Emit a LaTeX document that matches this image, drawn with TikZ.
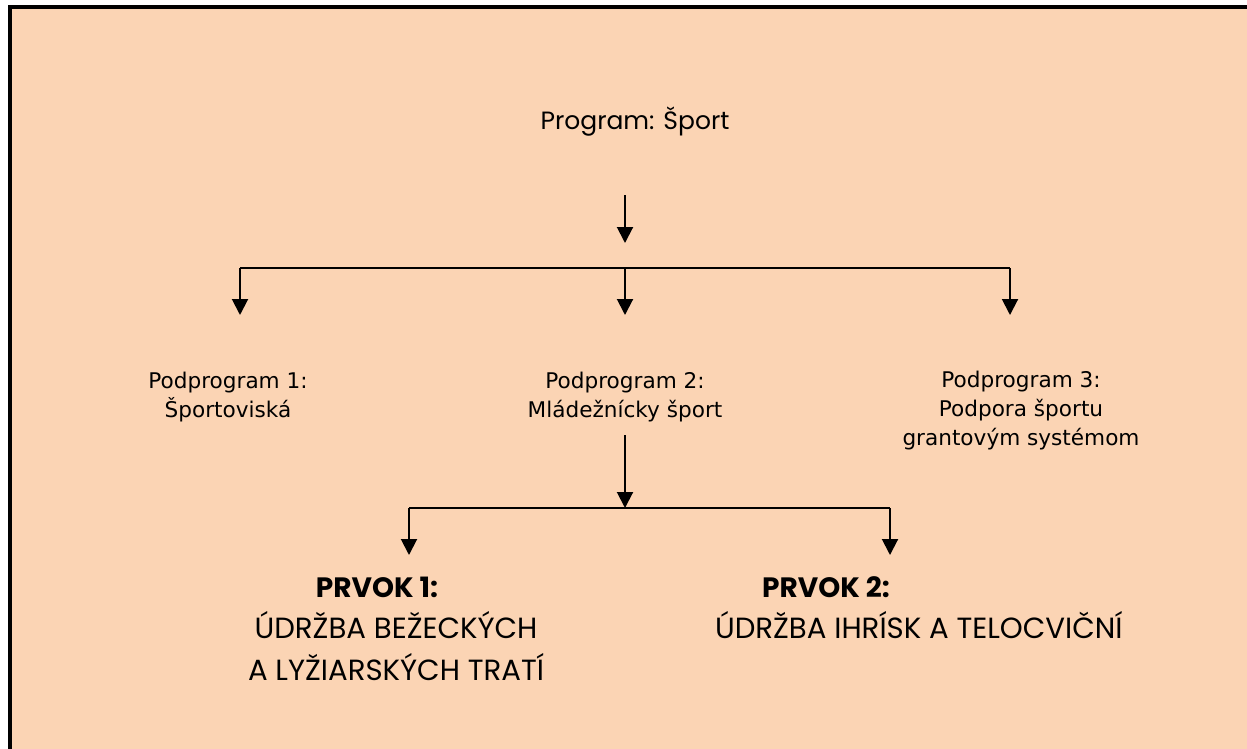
\documentclass[tikz,border=0pt]{standalone}
\usepackage{fontspec}
\setmainfont{DejaVu Sans}
\newfontfamily\gothic{Poppins}
\usepackage{tikz}
\usetikzlibrary{arrows.meta}
\definecolor{peach}{RGB}{251,212,180}

\begin{document}
\begin{tikzpicture}[x=0.5pt,y=-0.5pt,
		arr/.style={line width=1pt, -{Triangle[width=8pt,length=8pt]}},
		ln/.style={line width=1pt},
		sub/.style={align=center, anchor=base, font=\fontsize{10.8}{14.5}\selectfont},
		head/.style={anchor=base, font=\gothic\bfseries\fontsize{14}{17}\selectfont},
		elem/.style={align=center, anchor=base, font=\gothic\fontsize{14.6}{21}\selectfont}]
			\useasboundingbox (0,0) rectangle (1247,749);
			\fill[peach] (8,5) rectangle (1247,749);
			\draw[line width=2pt] (10,749) -- (10,7) -- (1247,7);
			
			% multi-line nodes sit on their last baseline
			\node[anchor=base] (0) at (635,129) {\gothic\fontsize{12.5}{15}\selectfont Program: Šport};
			\node[sub] (1) at (228,417) {Podprogram 1:\\Športoviská};
			\node[sub] (2) at (625,417) {Podprogram 2:\\Mládežnícky šport};
			\node[sub] (3) at (1021,445) {Podprogram 3:\\Podpora športu\\grantovým systémom};
			\node[head] (4) at (377,597) {PRVOK 1:};
			\node[elem] (5) at (396,680) {ÚDRŽBA BEŽECKÝCH\\A LYŽIARSKÝCH TRATÍ};
			\node[head] (6) at (826,597) {PRVOK 2:};
			\node[elem, anchor=base west] (7) at (708,638) {ÚDRŽBA IHRÍSK A TELOCVIČNÍ};
			
			\coordinate (a) at (625,195);
			\coordinate (b) at (625,243);
			\coordinate (c1) at (240,268);
			\coordinate (c2) at (625,268);
			\coordinate (c3) at (1010,268);
			\coordinate (d1) at (240,315);
			\coordinate (d2) at (625,315);
			\coordinate (d3) at (1010,315);
			\coordinate (e) at (625,435);
			\coordinate (f) at (625,508);
			\coordinate (g1) at (409,508);
			\coordinate (g2) at (890,508);
			\coordinate (h1) at (409,555);
			\coordinate (h2) at (890,555);
			
			\draw[arr] (a) -- (b);
			\draw[ln] (c1) -- (c3);
			\draw[arr] (c1) -- (d1);
			\draw[arr] (c2) -- (d2);
			\draw[arr] (c3) -- (d3);
			
			\draw[arr] (e) -- (f);
			\draw[ln] (g1) -- (g2);
			\draw[arr] (g1) -- (h1);
			\draw[arr] (g2) -- (h2);
		\end{tikzpicture}
\end{document}
